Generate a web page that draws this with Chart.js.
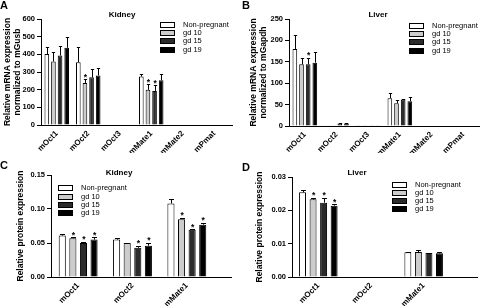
<!DOCTYPE html>
<html>
<head>
<meta charset="utf-8">
<script src="https://cdn.jsdelivr.net/npm/chart.js@4.4.1/dist/chart.umd.min.js"></script>
<style>
  body { margin: 0; width: 480px; height: 306px; background: #fff; position: relative; overflow: hidden; }
  .panel { position: absolute; width: 240px; height: 153px; }
</style>
</head>
<body>
<div class="panel" style="left:0;top:0"><canvas id="chartA" width="240" height="153"></canvas></div>
<div class="panel" style="left:240px;top:0"><canvas id="chartB" width="240" height="153"></canvas></div>
<div class="panel" style="left:0;top:153px"><canvas id="chartC" width="240" height="153"></canvas></div>
<div class="panel" style="left:240px;top:153px"><canvas id="chartD" width="240" height="153"></canvas></div>
<script>
// groups shared by all four panels
var groups = ['Non-pregnant', 'gd 10', 'gd 15', 'gd 19']
var groupColors = ['#ffffff', '#cccccc', '#2b2b2b', '#000000']

// A - kidney mRNA
var kidneyMrnaGenes = ['mOct1', 'mOct2', 'mOct3', 'mMate1', 'mMate2', 'mPmat']
var kidneyMrnaTicks = [0, 100, 200, 300, 400, 500, 600]
var kidneyMrnaNonPreg = [402, 355, 0, 274, 0, 0]
var kidneyMrnaNonPregSem = [39, 89, 0, 13, 0, 0]
var kidneyMrnaGd10 = [359, 238, 0, 199, 0, 0]
var kidneyMrnaGd10Sem = [57, 20, 0, 31, 0, 0]
var kidneyMrnaGd15 = [393, 270, 0, 193, 0, 0]
var kidneyMrnaGd15Sem = [56, 48, 0, 32, 0, 0]
var kidneyMrnaGd19 = [437, 280, 0, 254, 0, 0]
var kidneyMrnaGd19Sem = [63, 42, 0, 35, 0, 0]
var kidneyMrnaStarsGd10 = [0, 1, 0, 1, 0, 0]
var kidneyMrnaStarsGd15 = [0, 0, 0, 1, 0, 0]

// B - liver mRNA
var liverMrnaGenes = ['mOct1', 'mOct2', 'mOct3', 'mMate1', 'mMate2', 'mPmat']
var liverMrnaTicks = [0, 50, 100, 150, 200, 250]
var liverMrnaNonPreg = [180, 0.4, 0.8, 65, 0, 0]
var liverMrnaNonPregSem = [32, 0, 0, 12, 0, 0]
var liverMrnaGd10 = [144, 0.4, 0.8, 53, 0, 0]
var liverMrnaGd10Sem = [16, 0, 0, 7, 0, 0]
var liverMrnaGd15 = [144, 6, 0.8, 62, 0, 0]
var liverMrnaGd15Sem = [16, 0.5, 0, 2, 0, 0]
var liverMrnaGd19 = [148, 6, 0.8, 58, 0, 0]
var liverMrnaGd19Sem = [24, 0.5, 0, 10, 0, 0]
var liverMrnaStarsGd15 = [1, 0, 0, 0, 0, 0]

// C - kidney protein
var kidneyProtGenes = ['mOct1', 'mOct2', 'mMate1']
var kidneyProtTicks = [0, 0.05, 0.10, 0.15]
var kidneyProtNonPreg = [0.061, 0.055, 0.108]
var kidneyProtNonPregSem = [0.0027, 0.0028, 0.0068]
var kidneyProtGd10 = [0.057, 0.050, 0.085]
var kidneyProtGd10Sem = [0.0013, 0.0005, 0.0018]
var kidneyProtGd15 = [0.050, 0.043, 0.0695]
var kidneyProtGd15Sem = [0.0018, 0.0033, 0.0008]
var kidneyProtGd19 = [0.055, 0.046, 0.077]
var kidneyProtGd19Sem = [0.0031, 0.0042, 0.0026]
var kidneyProtStarsGd10 = [1, 0, 1]
var kidneyProtStarsGd15 = [1, 1, 1]
var kidneyProtStarsGd19 = [1, 1, 1]

// D - liver protein
var liverProtGenes = ['mOct1', 'mOct2', 'mMate1']
var liverProtTicks = [0, 0.01, 0.02, 0.03]
var liverProtNonPreg = [0.0254, 0, 0.0074]
var liverProtNonPregSem = [0.0007, 0, 0.0002]
var liverProtGd10 = [0.0233, 0, 0.0075]
var liverProtGd10Sem = [0.0005, 0, 0.0006]
var liverProtGd15 = [0.0223, 0, 0.0072]
var liverProtGd15Sem = [0.0015, 0, 0.0001]
var liverProtGd19 = [0.0214, 0, 0.0071]
var liverProtGd19Sem = [0.0004, 0, 0.0005]
var liverProtStars = [1, 0, 0]

var FONT = 'Liberation Sans, Arial, sans-serif'
var none = [0, 0, 0, 0, 0, 0]

function series(i, values, sem, stars) {
    return {
        label: groups[i],
        data: values,
        sem: sem,
        stars: stars || none,
        backgroundColor: groupColors[i],
        borderColor: '#000',
        borderWidth: 1
    }
}

// error bars, asterisks, title, legend, panel letter
var panelDeco = {
    id: 'panelDeco',
    afterDatasetsDraw(chart, args, o) {
        var ctx = chart.ctx, y = chart.scales.y
        ctx.save()
        ctx.strokeStyle = '#000'
        ctx.fillStyle = '#000'
        ctx.lineWidth = 1
        chart.data.datasets.forEach((ds, i) => {
            chart.getDatasetMeta(i).data.forEach((bar, j) => {
                var v = ds.data[j], e = ds.sem[j]
                var x = Math.round(bar.x) + 0.5
                var top = y.getPixelForValue(v + e)
                if (e > 0) {
                    var cap = bar.width * 0.35
                    ctx.beginPath()
                    ctx.moveTo(x, y.getPixelForValue(v))
                    ctx.lineTo(x, Math.round(top) + 0.5)
                    ctx.moveTo(x - cap, Math.round(top) + 0.5)
                    ctx.lineTo(x + cap, Math.round(top) + 0.5)
                    ctx.stroke()
                }
                if (ds.stars[j]) {
                    ctx.font = 'bold 8.5px ' + FONT
                    ctx.textAlign = 'center'
                    ctx.textBaseline = 'alphabetic'
                    ctx.fillText('*', bar.x + 0.5, top + 0.5)
                }
            })
        })
        ctx.restore()
    },
    afterDraw(chart, args, o) {
        var ctx = chart.ctx, a = chart.chartArea
        ctx.save()
        // x axis line runs past the last category
        ctx.strokeStyle = '#000'
        ctx.lineWidth = 1
        ctx.beginPath()
        ctx.moveTo(a.right - 1, Math.round(a.bottom) + 0.5)
        ctx.lineTo(o.axisEnd, Math.round(a.bottom) + 0.5)
        ctx.stroke()
        ctx.fillStyle = '#000'
        ctx.font = 'bold 11px ' + FONT
        ctx.textAlign = 'left'
        ctx.textBaseline = 'top'
        ctx.fillText(o.letter, o.letterX, o.letterY)
        ctx.font = 'bold 8px ' + FONT
        ctx.textAlign = 'center'
        ctx.textBaseline = 'middle'
        ctx.fillText(o.title, o.titleX, o.titleY)
        ctx.font = '7.5px ' + FONT
        ctx.textAlign = 'left'
        chart.data.datasets.forEach((ds, i) => {
            var ry = o.legendY + i * o.legendStep
            ctx.fillStyle = ds.backgroundColor
            ctx.fillRect(o.legendX + 0.5, Math.round(ry - 2.5) + 0.5, 14, 5)
            ctx.strokeRect(o.legendX + 0.5, Math.round(ry - 2.5) + 0.5, 14, 5)
            ctx.fillStyle = '#000'
            ctx.fillText(ds.label, o.legendX + 23, ry + 0.5)
        })
        ctx.restore()
    }
}

function makePanel(id, p) {
    var ctx = document.getElementById(id).getContext('2d')
    return new Chart(ctx, {
        type: 'bar',
        data: { labels: p.labels, datasets: p.datasets },
        options: {
            responsive: false,
            animation: false,
            categoryPercentage: p.catPct,
            barPercentage: p.barPct,
            layout: { padding: { left: 0, top: p.top, right: 240 - p.right, bottom: 0 } },
            plugins: {
                legend: { display: false },
                tooltip: { enabled: false },
                panelDeco: p.deco
            },
            scales: {
                x: {
                    grid: { display: false, drawTicks: false },
                    border: { color: '#000', width: 1 },
                    ticks: {
                        autoSkip: false, minRotation: 45, maxRotation: 45, padding: 4,
                        color: '#000', font: { family: FONT, size: 8, weight: 'bold' }
                    },
                    afterFit: s => { s.height = 153 - p.bottom }
                },
                y: {
                    min: 0,
                    max: p.ticks[p.ticks.length - 1],
                    afterBuildTicks: s => { s.ticks = p.ticks.map(v => ({ value: v })) },
                    grid: { drawOnChartArea: false, drawTicks: true, tickLength: 4, color: '#000' },
                    border: { color: '#000', width: 1 },
                    ticks: {
                        padding: 2, color: '#000',
                        font: { family: FONT, size: 7.5, weight: 'bold' },
                        callback: v => p.fmt(v)
                    },
                    title: {
                        display: true, text: p.yTitle, color: '#000',
                        font: { family: FONT, size: 8.5, weight: 'bold', lineHeight: 1.15 },
                        padding: { top: p.titlePad, bottom: 1 }
                    },
                    afterFit: s => { s.width = p.left }
                }
            }
        },
        plugins: [panelDeco]
    })
}

makePanel('chartA', {
    labels: kidneyMrnaGenes, ticks: kidneyMrnaTicks, fmt: v => String(v),
    left: 41, top: 19, right: 230, bottom: 125, catPct: 0.84, barPct: 0.7, titlePad: 2.5,
    yTitle: ['Relative mRNA expression', 'normalized to mGusb'],
    datasets: [
        series(0, kidneyMrnaNonPreg, kidneyMrnaNonPregSem),
        series(1, kidneyMrnaGd10, kidneyMrnaGd10Sem, kidneyMrnaStarsGd10),
        series(2, kidneyMrnaGd15, kidneyMrnaGd15Sem, kidneyMrnaStarsGd15),
        series(3, kidneyMrnaGd19, kidneyMrnaGd19Sem)
    ],
    deco: { letter: 'A', letterX: 0, letterY: 0, title: 'Kidney', titleX: 122, titleY: 15,
        legendX: 160, legendY: 24, legendStep: 8.4, axisEnd: 233 }
})

makePanel('chartB', {
    labels: liverMrnaGenes, ticks: liverMrnaTicks, fmt: v => String(v),
    left: 49, top: 19, right: 239, bottom: 126, catPct: 0.84, barPct: 0.7, titlePad: 9,
    yTitle: ['Relative mRNA expression', 'normalized to mGapdh'],
    datasets: [
        series(0, liverMrnaNonPreg, liverMrnaNonPregSem),
        series(1, liverMrnaGd10, liverMrnaGd10Sem),
        series(2, liverMrnaGd15, liverMrnaGd15Sem, liverMrnaStarsGd15),
        series(3, liverMrnaGd19, liverMrnaGd19Sem)
    ],
    deco: { letter: 'B', letterX: 2, letterY: 0, title: 'Liver', titleX: 138, titleY: 15,
        legendX: 169, legendY: 25, legendStep: 8.4, axisEnd: 239 }
})

makePanel('chartC', {
    labels: kidneyProtGenes, ticks: kidneyProtTicks, fmt: v => v.toFixed(2),
    left: 51, top: 22, right: 214, bottom: 124, catPct: 0.78, barPct: 0.67, titlePad: 16,
    yTitle: 'Relative protein expression',
    datasets: [
        series(0, kidneyProtNonPreg, kidneyProtNonPregSem),
        series(1, kidneyProtGd10, kidneyProtGd10Sem, kidneyProtStarsGd10),
        series(2, kidneyProtGd15, kidneyProtGd15Sem, kidneyProtStarsGd15),
        series(3, kidneyProtGd19, kidneyProtGd19Sem, kidneyProtStarsGd19)
    ],
    deco: { letter: 'C', letterX: 0, letterY: 7, title: 'Kidney', titleX: 119, titleY: 20,
        legendX: 58, legendY: 34.7, legendStep: 8.3, axisEnd: 232 }
})

makePanel('chartD', {
    labels: liverProtGenes, ticks: liverProtTicks, fmt: v => v.toFixed(2),
    left: 52, top: 24, right: 210, bottom: 124, catPct: 0.8, barPct: 0.66, titlePad: 15,
    yTitle: 'Relative protein expression',
    datasets: [
        series(0, liverProtNonPreg, liverProtNonPregSem),
        series(1, liverProtGd10, liverProtGd10Sem, liverProtStars),
        series(2, liverProtGd15, liverProtGd15Sem, liverProtStars),
        series(3, liverProtGd19, liverProtGd19Sem, liverProtStars)
    ],
    deco: { letter: 'D', letterX: 2, letterY: 9, title: 'Liver', titleX: 117, titleY: 20,
        legendX: 152, legendY: 31, legendStep: 8.3, axisEnd: 238 }
})
</script>
</body>
</html>
